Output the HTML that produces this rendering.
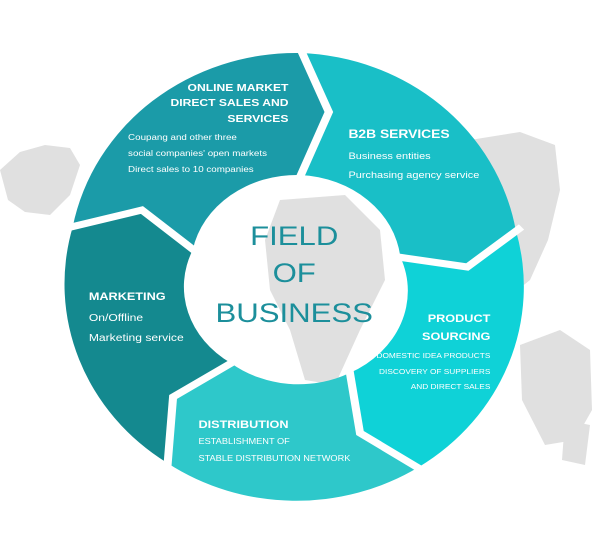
<!DOCTYPE html>
<html><head><meta charset="utf-8"><style>
html,body{margin:0;padding:0;background:#fff;width:600px;height:557px;overflow:hidden}
text{font-family:"Liberation Sans Narrow","Liberation Sans",sans-serif;fill:#fff}
.b{font-weight:bold}
</style></head><body>
<svg width="600" height="557" viewBox="0 0 600 557" xmlns="http://www.w3.org/2000/svg">
<g fill="#e0e0e0">
<path d="M0,170 L20,152 L45,145 L70,148 L80,165 L70,195 L50,215 L25,212 L8,200 Z"/>
<path d="M470,140 L520,132 L555,145 L560,190 L548,240 L530,280 L505,300 L485,260 L478,200 Z"/>
<path d="M520,345 L560,330 L590,350 L592,410 L575,440 L545,445 L522,400 Z"/>
<path d="M565,420 L590,425 L585,465 L562,460 Z"/>
<path d="M280,200 L345,195 L380,230 L385,280 L360,330 L335,385 L305,380 L290,330 L270,290 L265,240 Z"/>
</g>
<g transform="scale(1.1538,1)">
<g>
<path fill="#1b9ba8" d="M167,250 L123,210 L63,227 A197 214 0 0 1 260,53 L285,112 L260,175 A92 92 0 0 0 167,250 Z"/>
<path fill="#19bfc7" d="M260,175 L285,112 L260,53 A197 214 0 0 1 447,230 L405,267 L347,257 A92 92 0 0 0 260,175 Z"/>
<path fill="#0fd2d7" d="M347,257 L405,267 L447,230 A197 214 0 0 1 363,467 L312,433 L303,373 A92 92 0 0 0 347,257 Z"/>
<path fill="#2ec8ca" d="M303,373 L312,433 L363,467 A197 214 0 0 1 145,463 L150,397 L200,363 A92 92 0 0 0 303,373 Z"/>
<path fill="#14898f" d="M200,363 L150,397 L145,463 A197 214 0 0 1 63,227 L123,210 L167,250 A92 92 0 0 0 200,363 Z"/>
</g>
<g fill="none" stroke="#fff" stroke-width="7" stroke-linejoin="miter">
<polyline points="260,177 285,112 260,48"/>
<polyline points="345,257 405,267 452,227"/>
<polyline points="303,371 312,433 367,471"/>
<polyline points="202,362 150,397 145,468"/>
<polyline points="169,251 123,210 58,228"/>
</g>
<text class="b" x="250" y="91" font-size="10.5" text-anchor="end">ONLINE MARKET</text>
<text class="b" x="250" y="106" font-size="10.5" text-anchor="end">DIRECT SALES AND</text>
<text class="b" x="250" y="122" font-size="10.5" text-anchor="end">SERVICES</text>
<text x="111" y="140" font-size="8.5">Coupang and other three</text>
<text x="111" y="156" font-size="8.5">social companies' open markets</text>
<text x="111" y="172" font-size="8.5">Direct sales to 10 companies</text>
<text class="b" x="302" y="138" font-size="12">B2B SERVICES</text>
<text x="302" y="159" font-size="9.5">Business entities</text>
<text x="302" y="178" font-size="9.5">Purchasing agency service</text>
<g text-anchor="middle" font-size="27">
<text x="255" y="245" style="fill:#1c8f9b">FIELD</text>
<text x="255" y="282" style="fill:#1c8f9b">OF</text>
<text x="255" y="322" style="fill:#1c8f9b">BUSINESS</text>
</g>
<text class="b" x="77" y="300" font-size="11">MARKETING</text>
<text x="77" y="321" font-size="10.5">On/Offline</text>
<text x="77" y="341" font-size="10.5">Marketing service</text>
<text class="b" x="425" y="322" font-size="11" text-anchor="end">PRODUCT</text>
<text class="b" x="425" y="340" font-size="11" text-anchor="end">SOURCING</text>
<text x="425" y="358" font-size="7.2" text-anchor="end">DOMESTIC IDEA PRODUCTS</text>
<text x="425" y="374" font-size="7.2" text-anchor="end">DISCOVERY OF SUPPLIERS</text>
<text x="425" y="389" font-size="7.2" text-anchor="end">AND DIRECT SALES</text>
<text class="b" x="172" y="428" font-size="11">DISTRIBUTION</text>
<text x="172" y="444" font-size="8">ESTABLISHMENT OF</text>
<text x="172" y="461" font-size="8">STABLE DISTRIBUTION NETWORK</text>
</g>
</svg>
</body></html>
